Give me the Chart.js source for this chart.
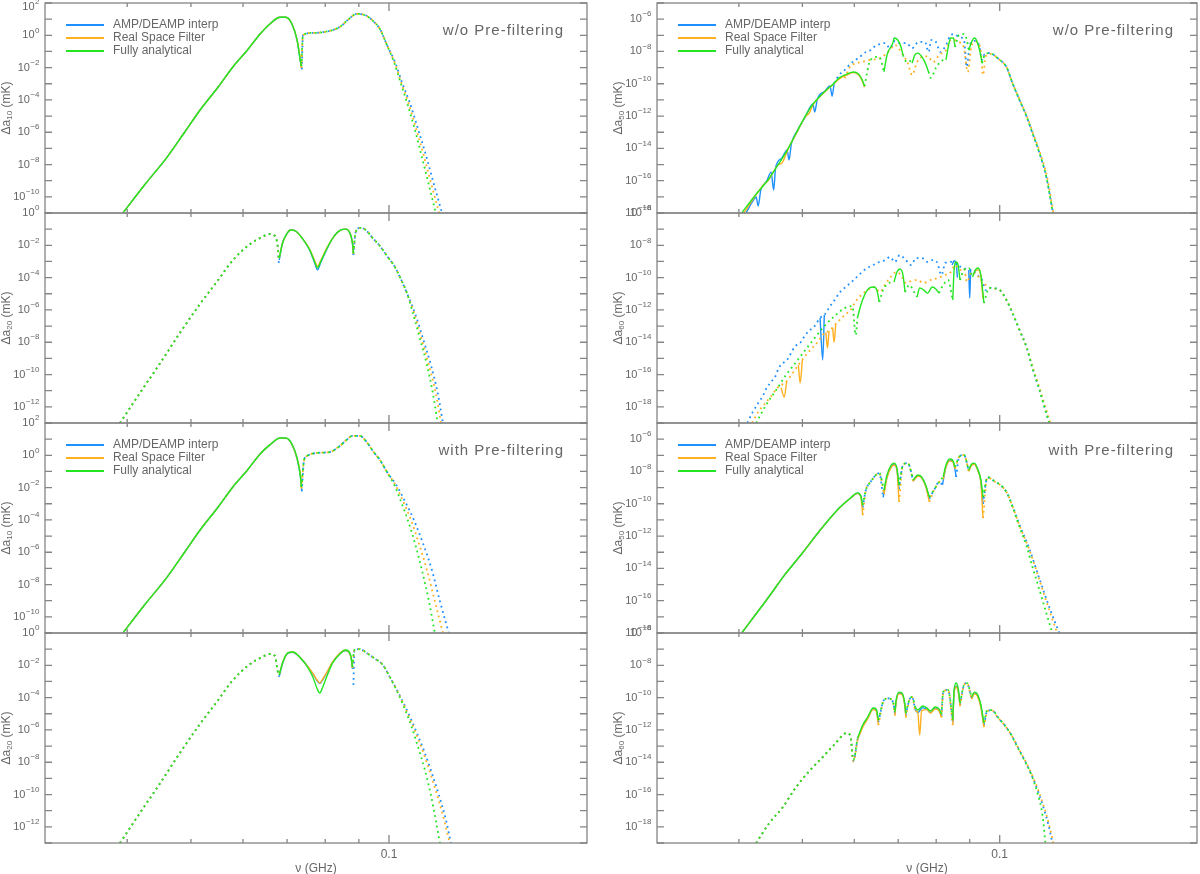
<!DOCTYPE html>
<html>
<head>
<meta charset="utf-8">
<script src="https://cdn.jsdelivr.net/npm/chart.js@4.4.1/dist/chart.umd.min.js"></script>
<style>
  html, body { margin: 0; padding: 0; background: #fff; overflow: hidden; }
  #wrap { position: relative; width: 1200px; height: 874px; }
  canvas { position: absolute; }
</style>
</head>
<body>
<div id="wrap"></div>
<script>
// ---------- data: [nu (GHz), delta a (mK)], null = break ----------

// top-left : a10, w/o pre-filtering
const L1_G_solid = [[0.0394,1e-11],[0.0425,5.4e-10],[0.0460,2.9e-8],[0.0489,1e-6],[0.0516,2.3e-5],[0.0550,6.3e-4],[0.0579,1.1e-2],[0.0609,0.12],[0.0637,1.2],[0.0659,5],[0.0683,13],[0.0697,13],[0.0712,5],[0.0725,0.5],[0.0733,0.03],[0.0736,0.0125]];
const L1_O_solid = [[0.0394,1e-11],[0.0425,5.4e-10],[0.0460,2.9e-8],[0.0489,1e-6],[0.0516,2.3e-5],[0.0550,6.3e-4],[0.0579,1.1e-2],[0.0609,0.12],[0.0637,1.2],[0.0659,5],[0.0683,13],[0.0697,13],[0.0712,5],[0.0725,0.5],[0.0734,0.025],[0.0736,0.01]];
const L1_B_solid = [[0.0394,1e-11],[0.0425,5.4e-10],[0.0460,2.9e-8],[0.0489,1e-6],[0.0516,2.3e-5],[0.0550,6.3e-4],[0.0579,1.1e-2],[0.0609,0.12],[0.0637,1.2],[0.0659,5],[0.0683,13],[0.0697,13],[0.0712,5],[0.0725,0.5],[0.0734,0.02],[0.0737,0.008]];
const L1_G_dot = [[0.0736,0.0125],[0.0740,1.0],[0.0765,1.4],[0.0813,1.9],[0.0842,3.3],[0.0866,9],[0.0893,21],[0.0919,18],[0.0942,9],[0.0969,2.4],[0.0993,0.25],[0.1019,0.019],[0.1042,1.1e-3],[0.1068,4.8e-5],[0.1095,1.4e-6],[0.1122,2.9e-8],[0.1150,5.4e-10],[0.1178,1e-11]];
const L1_O_dot = [[0.0736,0.01],[0.0740,1.0],[0.0765,1.4],[0.0813,1.9],[0.0842,3.3],[0.0866,9],[0.0893,21],[0.0919,18],[0.0942,9],[0.0969,2.4],[0.0993,0.25],[0.1021,0.019],[0.1044,1.2e-3],[0.1072,5.5e-5],[0.1100,1.6e-6],[0.1130,3.4e-8],[0.1160,6e-10],[0.1192,1e-11]];
const L1_B_dot = [[0.0737,0.008],[0.0740,1.0],[0.0765,1.4],[0.0813,1.9],[0.0842,3.3],[0.0866,9],[0.0893,21],[0.0919,18],[0.0942,9],[0.0969,2.4],[0.0993,0.25],[0.1023,0.019],[0.1046,1.3e-3],[0.1076,6.5e-5],[0.1106,1.8e-6],[0.1138,3.9e-8],[0.1170,6.3e-10],[0.1204,1e-11]];

// second-left : a20, w/o pre-filtering
const L2_G_solid = [[0.0681,1.6e-3],[0.0689,1.4e-2],[0.0699,5e-2],[0.0709,8.9e-2],[0.0721,7.7e-2],[0.0738,2.8e-2],[0.0758,5.1e-3],[0.0771,9.3e-4],[0.0779,4e-4],[0.0787,9.3e-4],[0.0807,7.9e-3],[0.0826,3.8e-2],[0.0845,8.9e-2],[0.0859,0.1],[0.0872,5.8e-2],[0.0880,1.4e-2],[0.0883,3.3e-3]];
const L2_O_solid = [[0.0681,1.6e-3],[0.0689,1.4e-2],[0.0699,5e-2],[0.0709,8.9e-2],[0.0721,7.7e-2],[0.0738,2.8e-2],[0.0758,5.5e-3],[0.0771,1.1e-3],[0.0779,5e-4],[0.0787,1.1e-3],[0.0807,8.5e-3],[0.0826,3.8e-2],[0.0845,8.9e-2],[0.0859,0.1],[0.0872,5.8e-2],[0.0880,1.4e-2],[0.0883,3e-3]];
const L2_B_solid = [[0.0681,1.2e-3],[0.0689,1.4e-2],[0.0699,5e-2],[0.0709,8.9e-2],[0.0721,7.7e-2],[0.0738,2.8e-2],[0.0758,4.8e-3],[0.0771,8e-4],[0.0779,3e-4],[0.0787,8e-4],[0.0807,7.5e-3],[0.0826,3.8e-2],[0.0845,8.9e-2],[0.0859,0.1],[0.0872,5.8e-2],[0.0880,1.4e-2],[0.0883,2.5e-3]];
const L2_G_dot = [[0.0390,1e-13],[0.0418,7e-12],[0.0449,5.1e-10],[0.0481,3.7e-8],[0.0516,2.3e-6],[0.0550,7.1e-5],[0.0579,1.2e-3],[0.0615,1.2e-2],[0.0641,3.2e-2],[0.0659,5e-2],[0.0671,3.8e-2],[0.0677,1.05e-2],[0.0680,1.6e-3], null,
  [0.0883,3.3e-3],[0.0890,6.6e-2],[0.0906,0.12],[0.0922,8.9e-2],[0.0942,3.2e-2],[0.0969,9.1e-3],[0.0993,2.2e-3],[0.1019,5.2e-4],[0.1039,1.1e-4],[0.1065,1.1e-5],[0.1087,6.5e-7],[0.1114,1.8e-8],[0.1142,3.9e-10],[0.1166,7.1e-12],[0.1186,1e-13]];
const L2_O_dot = [[0.0390,1e-13],[0.0418,7e-12],[0.0449,5.1e-10],[0.0481,3.7e-8],[0.0516,2.3e-6],[0.0550,7.1e-5],[0.0579,1.2e-3],[0.0615,1.2e-2],[0.0641,3.2e-2],[0.0659,5e-2],[0.0671,3.8e-2],[0.0677,1.05e-2],[0.0680,1.2e-3], null,
  [0.0883,3e-3],[0.0890,6.6e-2],[0.0906,0.12],[0.0922,8.9e-2],[0.0942,3.2e-2],[0.0969,9.1e-3],[0.0993,2.2e-3],[0.1019,5.2e-4],[0.1039,1.1e-4],[0.1065,1.1e-5],[0.1092,6.5e-7],[0.1120,1.8e-8],[0.1150,3.9e-10],[0.1178,7.1e-12],[0.1200,1e-13]];
const L2_B_dot = [[0.0390,1e-13],[0.0418,7e-12],[0.0449,5.1e-10],[0.0481,3.7e-8],[0.0516,2.3e-6],[0.0550,7.1e-5],[0.0579,1.2e-3],[0.0615,1.2e-2],[0.0641,3.2e-2],[0.0659,5e-2],[0.0671,3.8e-2],[0.0677,1.05e-2],[0.0680,8e-4], null,
  [0.0883,2.5e-3],[0.0890,6.6e-2],[0.0906,0.12],[0.0922,8.9e-2],[0.0942,3.2e-2],[0.0969,9.1e-3],[0.0993,2.2e-3],[0.1019,5.2e-4],[0.1039,1.1e-4],[0.1065,1.1e-5],[0.1095,6.5e-7],[0.1126,1.8e-8],[0.1158,3.9e-10],[0.1186,7.1e-12],[0.1208,1e-13]];

// third-left : a10, with pre-filtering
const L3_G_solid = [[0.0394,1e-11],[0.0425,5.4e-10],[0.0460,2.9e-8],[0.0489,1e-6],[0.0516,2.3e-5],[0.0550,6.3e-4],[0.0579,1.1e-2],[0.0609,0.12],[0.0637,1.2],[0.0659,4.4],[0.0683,11.7],[0.0697,11.7],[0.0712,5],[0.0725,0.68],[0.0733,0.06],[0.0736,0.011]];
const L3_O_solid = [[0.0394,1e-11],[0.0425,5.4e-10],[0.0460,2.9e-8],[0.0489,1e-6],[0.0516,2.3e-5],[0.0550,6.3e-4],[0.0579,1.1e-2],[0.0609,0.12],[0.0637,1.2],[0.0659,4.4],[0.0683,11.5],[0.0697,11.5],[0.0712,4.8],[0.0725,0.6],[0.0734,0.05],[0.0736,0.009]];
const L3_B_solid = [[0.0394,1e-11],[0.0425,5.4e-10],[0.0460,2.9e-8],[0.0489,1e-6],[0.0516,2.3e-5],[0.0550,6.3e-4],[0.0579,1.1e-2],[0.0609,0.12],[0.0637,1.2],[0.0659,4.4],[0.0683,11.5],[0.0697,11.5],[0.0712,4.8],[0.0725,0.6],[0.0734,0.04],[0.0737,0.006]];
const L3_G_dot = [[0.0736,0.011],[0.0743,0.51],[0.0750,0.9],[0.0776,1.4],[0.0813,1.6],[0.0842,3.8],[0.0862,9],[0.0880,16],[0.0903,16],[0.0925,6.6],[0.0945,1.9],[0.0969,0.51],[0.0993,0.093],[0.1019,0.0145],[0.1042,1.5e-3],[0.1068,1e-4],[0.1095,3.7e-6],[0.1122,8e-8],[0.1150,9.5e-10],[0.1174,1e-11]];
const L3_O_dot = [[0.0736,0.009],[0.0743,0.51],[0.0750,0.9],[0.0776,1.4],[0.0813,1.6],[0.0842,3.8],[0.0862,9],[0.0880,16],[0.0903,16],[0.0925,6.6],[0.0945,1.9],[0.0969,0.51],[0.0993,0.093],[0.1023,0.0145],[0.1050,1.5e-3],[0.1080,1e-4],[0.1110,3.7e-6],[0.1142,8e-8],[0.1174,9.5e-10],[0.1208,1e-11]];
const L3_B_dot = [[0.0737,0.006],[0.0743,0.51],[0.0750,0.9],[0.0776,1.4],[0.0813,1.6],[0.0842,3.8],[0.0862,9],[0.0880,16],[0.0903,16],[0.0925,6.6],[0.0945,1.9],[0.0969,0.51],[0.0993,0.093],[0.1026,0.0145],[0.1057,1.5e-3],[0.1091,1e-4],[0.1126,3.7e-6],[0.1162,8e-8],[0.1195,9.5e-10],[0.1233,1e-11]];

// bottom-left : a20, with pre-filtering
const L4_G_solid = [[0.0681,2.5e-3],[0.0689,1.4e-2],[0.0702,5.8e-2],[0.0714,6.6e-2],[0.0732,3.2e-2],[0.0750,9.1e-3],[0.0766,1.9e-3],[0.0779,3e-4],[0.0785,1.9e-4],[0.0790,3e-4],[0.0804,1.9e-3],[0.0821,1.4e-2],[0.0842,5e-2],[0.0859,8.9e-2],[0.0872,5.8e-2],[0.0877,2.5e-2],[0.0880,7.9e-3]];
const L4_O_solid = [[0.0681,2.5e-3],[0.0689,1.4e-2],[0.0702,5.8e-2],[0.0714,6.6e-2],[0.0732,3.2e-2],[0.0750,1.0e-2],[0.0766,3.2e-3],[0.0779,1.1e-3],[0.0785,8e-4],[0.0790,1.1e-3],[0.0804,3.5e-3],[0.0821,1.6e-2],[0.0842,5.5e-2],[0.0859,8.5e-2],[0.0872,5.5e-2],[0.0877,2.2e-2],[0.0880,7e-3]];
const L4_B_solid = [[0.0681,2e-3],[0.0689,1.3e-2],[0.0702,5.6e-2],[0.0714,6.4e-2],[0.0732,3.1e-2],[0.0750,1.0e-2],[0.0766,3e-3],[0.0779,1.0e-3],[0.0785,7.5e-4],[0.0790,1.0e-3],[0.0804,3.3e-3],[0.0821,1.5e-2],[0.0842,5.3e-2],[0.0859,8.3e-2],[0.0872,5.3e-2],[0.0877,2e-2],[0.0880,6e-3]];
const L4_G_dot = [[0.0390,1e-13],[0.0418,7e-12],[0.0449,5.1e-10],[0.0481,3.7e-8],[0.0516,2.3e-6],[0.0550,7.1e-5],[0.0579,1.2e-3],[0.0615,1.2e-2],[0.0641,3.2e-2],[0.0659,5e-2],[0.0671,3.8e-2],[0.0677,5e-3],[0.0680,2.5e-3], null,
  [0.0880,7.9e-3],[0.0886,8.9e-2],[0.0903,0.1],[0.0925,5.8e-2],[0.0949,2.8e-2],[0.0979,1.05e-2],[0.1003,1.9e-3],[0.1028,2.6e-4],[0.1054,2.6e-5],[0.1080,2e-6],[0.1106,1e-7],[0.1134,3.3e-9],[0.1158,9.3e-11],[0.1178,2.6e-12],[0.1195,1e-13]];
const L4_O_dot = [[0.0390,1e-13],[0.0418,7e-12],[0.0449,5.1e-10],[0.0481,3.7e-8],[0.0516,2.3e-6],[0.0550,7.1e-5],[0.0579,1.2e-3],[0.0615,1.2e-2],[0.0641,3.2e-2],[0.0659,5e-2],[0.0671,3.8e-2],[0.0677,5e-3],[0.0680,2.5e-3], null,
  [0.0880,7e-3],[0.0886,8.9e-2],[0.0903,0.1],[0.0925,5.8e-2],[0.0949,2.8e-2],[0.0979,1.05e-2],[0.1003,1.9e-3],[0.1028,3e-4],[0.1054,3.5e-5],[0.1080,3.5e-6],[0.1106,3.2e-7],[0.1134,2.1e-8],[0.1162,1.05e-9],[0.1191,4e-11],[0.1216,1.7e-12],[0.1237,1e-13]];
const L4_B_dot = [[0.0390,1e-13],[0.0418,7e-12],[0.0449,5.1e-10],[0.0481,3.7e-8],[0.0516,2.3e-6],[0.0550,7.1e-5],[0.0579,1.2e-3],[0.0615,1.2e-2],[0.0641,3.2e-2],[0.0659,5e-2],[0.0671,3.8e-2],[0.0677,5e-3],[0.0680,2e-3], null,
  [0.0883,6e-4],[0.0886,8.9e-2],[0.0903,0.1],[0.0925,5.8e-2],[0.0949,2.8e-2],[0.0979,1.05e-2],[0.1003,1.9e-3],[0.1028,3e-4],[0.1054,4e-5],[0.1080,4.7e-6],[0.1106,4.8e-7],[0.1134,3.7e-8],[0.1162,2.1e-9],[0.1191,9.3e-11],[0.1221,2.6e-12],[0.1242,1e-13]];

// top-right : a50, w/o pre-filtering
const R1_G_solid = [[0.0404,1e-18],[0.0424,1.3e-17],[0.0443,1.1e-16],[0.0460,1.1e-15],[0.0476,1.05e-14],[0.0490,1e-13],[0.0505,1e-12],[0.0519,5.6e-12],[0.0532,1.7e-11],[0.0546,4.7e-11],[0.0557,9.5e-11],[0.0569,2.3e-10],[0.0585,4e-10],[0.0598,5.4e-10],[0.0609,4e-10],[0.0617,1.7e-10],[0.0622,7.2e-11], null,
  [0.0666,5.4e-10],[0.0673,6e-9],[0.0688,3.9e-8],[0.0690,6.8e-8],[0.0699,5.1e-8],[0.0707,1.9e-8],[0.0712,6e-9], null,
  [0.0735,1.9e-9],[0.0742,6e-9],[0.0750,7.9e-9],[0.0761,4.6e-9],[0.0771,1.7e-9],[0.0779,5.4e-10], null,
  [0.0828,3e-9],[0.0834,1.6e-8],[0.0842,6.8e-8],[0.0850,6.8e-8],[0.0855,1.9e-8], null,
  [0.0897,1.2e-8],[0.0906,3.9e-8],[0.0915,6.8e-8],[0.0924,3.9e-8],[0.0933,9.3e-9],[0.0940,1.9e-9]];
const R1_G_dot = [[0.0622,7.2e-11],[0.0635,3e-9],[0.0655,4.6e-9],[0.0666,5.4e-10], null,
  [0.0712,6e-9],[0.0721,2.2e-9],[0.0733,2.6e-9],[0.0735,1.9e-9], null,
  [0.0779,5.4e-10],[0.0785,2.3e-10],[0.0799,9.5e-10],[0.0815,2.6e-9],[0.0828,3e-9], null,
  [0.0855,1.9e-8],[0.0867,1.05e-7],[0.0882,1.2e-7],[0.0891,5.1e-8],[0.0897,1.2e-8], null,
  [0.0940,1.9e-9],[0.0949,6e-9],[0.0964,7.9e-9],[0.1000,3e-9],[0.1024,1.1e-9],[0.1046,1.1e-10],[0.1072,1e-11],[0.1100,8.7e-13],[0.1122,8.9e-14],[0.1150,5.1e-15],[0.1178,1.7e-16],[0.1203,1.5e-18],[0.1205,1e-18]];
const R1_O_solid = [[0.0407,1e-18],[0.0424,1.2e-17],[0.0437,6e-17],[0.0443,1e-16],[0.0460,1e-15],[0.0465,1.2e-15],[0.0476,1e-14],[0.0490,9e-14],[0.0505,9e-13],[0.0512,1.5e-12],[0.0519,5e-12],[0.0532,1.6e-11],[0.0546,4.5e-11],[0.0557,9e-11],[0.0569,2e-10],[0.0585,3.6e-10],[0.0598,5e-10],[0.0609,3.6e-10],[0.0617,1.5e-10],[0.0622,6e-11]];
const R1_O_dot = [[0.0580,2.2e-10],[0.0592,1.2e-9],[0.0603,1.8e-9],[0.0614,2.2e-9],[0.0635,3e-9],[0.0657,3.9e-9],[0.0676,9.3e-9],[0.0692,2.5e-8],[0.0712,6e-9],[0.0724,1.9e-9],[0.0735,3.5e-10],[0.0748,2.2e-9],[0.0761,4.6e-9],[0.0776,5e-9],[0.0792,2.2e-9],[0.0808,6e-9],[0.0828,1.2e-8],[0.0842,5.1e-8],[0.0852,5.1e-8],[0.0867,3.9e-8],[0.0882,1.6e-8],[0.0894,5.4e-10],[0.0906,2.5e-8],[0.0921,3.9e-8],[0.0936,9.3e-9],[0.0943,3.5e-10],[0.0952,5e-9],[0.0968,7e-9],[0.1000,3e-9],[0.1024,1.1e-9],[0.1046,1.1e-10],[0.1072,1.1e-11],[0.1100,1e-12],[0.1124,9e-14],[0.1153,5e-15],[0.1181,1.7e-16],[0.1208,1e-18]];
const R1_B_solid = [[0.0410,1e-18],[0.0421,6.3e-18],[0.0425,9.8e-18],[0.0428,2.7e-18],[0.0432,2.6e-17],[0.0441,9.5e-17],[0.0448,3.4e-16],[0.0452,2.6e-17],[0.0455,6.1e-16],[0.0465,2.5e-15],[0.0474,8e-15],[0.0477,1.9e-15],[0.0481,1.9e-14],[0.0492,1.4e-13],[0.0505,8.7e-13],[0.0519,5.6e-12],[0.0522,1.8e-12],[0.0527,1.1e-11],[0.0541,3.5e-11],[0.0551,7.2e-11],[0.0555,1.7e-11],[0.0559,1.1e-10]];
const R1_B_dot = [[0.0559,1.1e-10],[0.0569,3.5e-10],[0.0580,7.1e-10],[0.0592,1.7e-9],[0.0603,3e-9],[0.0614,5.2e-9],[0.0625,9.3e-9],[0.0635,1.2e-8],[0.0646,2.2e-8],[0.0657,2.9e-8],[0.0669,3.3e-8],[0.0680,1.6e-8],[0.0692,4.5e-8],[0.0704,3.3e-8],[0.0721,3.3e-8],[0.0735,1.6e-8],[0.0752,3.9e-8],[0.0769,3.9e-8],[0.0779,9.3e-9],[0.0786,5.1e-8],[0.0799,3.9e-8],[0.0812,9.3e-9],[0.0831,3.3e-8],[0.0840,9.1e-8],[0.0852,1.2e-7],[0.0867,7.9e-8],[0.0882,5.1e-8],[0.0891,1.1e-9],[0.0900,2.5e-8],[0.0915,4.5e-8],[0.0930,2.5e-8],[0.0940,3e-9],[0.0946,6e-9],[0.0964,7.9e-9],[0.1000,3e-9],[0.1024,1.1e-9],[0.1046,1.1e-10],[0.1072,1e-11],[0.1100,8.7e-13],[0.1122,8.9e-14],[0.1150,5.1e-15],[0.1178,1.7e-16],[0.1206,1e-18]];

// second-right : a60, w/o pre-filtering
const R2_G_solid = [[0.0607,3.6e-13],[0.0614,2e-12],[0.0622,8.3e-12],[0.0633,2.3e-11],[0.0643,2.6e-11],[0.0650,1.5e-11],[0.0655,3.1e-12], null,
  [0.0690,5.4e-11],[0.0697,2.2e-10],[0.0704,3.4e-10],[0.0712,1.45e-10],[0.0717,1.3e-11], null,
  [0.0748,6.3e-12],[0.0755,2.3e-11],[0.0766,1.7e-11],[0.0776,1.1e-11],[0.0789,2.6e-11],[0.0799,2e-11],[0.0808,1.1e-11], null,
  [0.0848,4.1e-12],[0.0852,3e-10],[0.0858,9.3e-10],[0.0864,6e-10],[0.0870,7.1e-11], null,
  [0.0909,1.1e-10],[0.0918,3e-10],[0.0927,3.9e-10],[0.0936,1.45e-10],[0.0946,2.7e-12]];
const R2_G_dot = [[0.0425,1e-19],[0.0440,1.3e-18],[0.0456,1.1e-17],[0.0472,9.3e-17],[0.0489,5.9e-16],[0.0505,3.3e-15],[0.0522,1.8e-14],[0.0540,1e-13],[0.0560,4.2e-13],[0.0580,1.3e-12],[0.0596,1.7e-12],[0.0603,2.8e-14],[0.0607,3.6e-13], null,
  [0.0655,3.1e-12],[0.0664,1.7e-11],[0.0678,4.7e-11],[0.0690,5.4e-11], null,
  [0.0717,1.3e-11],[0.0728,3.5e-11],[0.0740,1.3e-11],[0.0748,6.3e-12], null,
  [0.0808,1.1e-11],[0.0820,3.5e-11],[0.0834,7.1e-11],[0.0848,4.1e-12], null,
  [0.0870,7.1e-11],[0.0882,3e-10],[0.0897,3.9e-10],[0.0909,1.1e-10], null,
  [0.0946,2.7e-12],[0.0964,2.3e-11],[0.1000,1.7e-11],[0.1024,4.1e-12],[0.1046,6.4e-13],[0.1072,5.8e-14],[0.1100,4.4e-15],[0.1122,2.5e-16],[0.1150,1.1e-17],[0.1174,6.3e-19],[0.1190,1e-19]];
const R2_O_solid = [[0.0464,1.5e-17],[0.0469,4e-18],[0.0473,3.5e-17], null,
  [0.0493,3.9e-16],[0.0496,3e-17],[0.0500,8e-16], null,
  [0.0543,4e-14],[0.0546,4.4e-15],[0.0549,5e-14], null,
  [0.0556,8e-14],[0.0559,1e-14],[0.0562,1.2e-13], null,
  [0.0915,2.5e-10],[0.0927,3e-10],[0.0936,1.2e-10],[0.0943,5e-12]];
const R2_O_dot = [[0.0419,1e-19],[0.0428,4.8e-19],[0.0438,1.5e-18],[0.0448,4.7e-18],[0.0458,1.5e-17],[0.0472,3.5e-17],[0.0483,1.2e-16],[0.0493,3.9e-16],[0.0502,1.05e-15],[0.0514,3.3e-15],[0.0526,8.9e-15],[0.0537,2.8e-14],[0.0551,5.8e-14],[0.0566,1.8e-13],[0.0580,4.8e-13],[0.0592,1e-12],[0.0605,4.1e-12],[0.0617,9.5e-12],[0.0629,1.7e-11],[0.0643,2.6e-11],[0.0657,1.3e-11],[0.0669,4e-11],[0.0680,9.5e-11],[0.0695,2.2e-10],[0.0707,1.45e-10],[0.0719,4.7e-11],[0.0733,6.2e-11],[0.0748,7.1e-11],[0.0766,4.7e-11],[0.0784,7.1e-11],[0.0805,9.5e-11],[0.0826,1.45e-10],[0.0842,2.2e-10],[0.0855,6e-10],[0.0870,3e-10],[0.0882,3.9e-10],[0.0891,5.4e-11],[0.0906,2.2e-10],[0.0924,1.45e-10],[0.0940,5.4e-11],[0.0952,3.5e-11],[0.0968,2.3e-11],[0.1000,1.7e-11],[0.1024,4.1e-12],[0.1046,6.4e-13],[0.1072,5.8e-14],[0.1100,4.4e-15],[0.1124,2.5e-16],[0.1153,1.1e-17],[0.1178,6.3e-19],[0.1195,1e-19]];
const R2_B_solid = [[0.0532,3.2e-13],[0.0537,8e-16],[0.0540,4.8e-13], null,
  [0.0846,6e-10],[0.0852,1.1e-9],[0.0858,8e-10],[0.0862,1e-10], null,
  [0.0897,3e-10],[0.0900,5.5e-12],[0.0903,3e-10]];
const R2_B_dot = [[0.0412,1e-19],[0.0420,4.8e-19],[0.0428,1.7e-18],[0.0435,4.7e-18],[0.0441,1.5e-17],[0.0448,3.5e-17],[0.0455,8.1e-17],[0.0460,2.5e-16],[0.0469,5.9e-16],[0.0476,1.05e-15],[0.0483,3.3e-15],[0.0490,6.8e-15],[0.0497,1e-14],[0.0505,2.8e-14],[0.0514,5.8e-14],[0.0522,1e-13],[0.0532,3.2e-13],[0.0540,4.8e-13],[0.0551,1.7e-12],[0.0560,4.1e-12],[0.0569,1.1e-11],[0.0580,2.3e-11],[0.0592,4.7e-11],[0.0603,9.5e-11],[0.0614,1.9e-10],[0.0627,3.9e-10],[0.0641,6e-10],[0.0655,9.3e-10],[0.0669,1.2e-9],[0.0680,1.9e-9],[0.0692,9.3e-10],[0.0704,2.5e-9],[0.0719,1.2e-9],[0.0733,6e-10],[0.0745,1.6e-9],[0.0761,1.6e-9],[0.0776,9.3e-10],[0.0789,1.2e-9],[0.0802,9.3e-10],[0.0815,1.45e-10],[0.0826,8e-10],[0.0839,9.3e-10],[0.0852,9.3e-10],[0.0867,5.2e-10],[0.0882,3.9e-10],[0.0897,3e-10],[0.0909,3e-10],[0.0924,1.45e-10],[0.0940,7.1e-11],[0.0952,1.7e-11],[0.0964,2.3e-11],[0.1000,1.7e-11],[0.1024,4.1e-12],[0.1046,6.4e-13],[0.1072,5.8e-14],[0.1100,4.4e-15],[0.1122,2.5e-16],[0.1150,1.1e-17],[0.1174,6.3e-19],[0.1190,1e-19]];

// third-right : a50, with pre-filtering
const R3_G_solid = [[0.0404,1e-18],[0.0419,7.3e-18],[0.0435,5.4e-17],[0.0451,4e-16],[0.0467,2.9e-15],[0.0500,8.9e-14],[0.0532,2.3e-12],[0.0569,5.5e-11],[0.0592,2.3e-10],[0.0607,4.7e-10],[0.0614,3e-10],[0.0618,8.3e-11], null,
  [0.0666,7.1e-10],[0.0673,6e-9],[0.0683,2.5e-8],[0.0690,3.3e-8],[0.0697,1.6e-8],[0.0702,1.45e-9], null,
  [0.0738,3e-9],[0.0750,6e-9],[0.0760,4.6e-9],[0.0771,1.45e-9],[0.0781,2.6e-10], null,
  [0.0820,4.6e-9],[0.0828,2.5e-8],[0.0839,5.9e-8],[0.0848,5e-8],[0.0855,1.9e-8], null,
  [0.0897,1.2e-8],[0.0906,2.9e-8],[0.0915,3.3e-8],[0.0927,1.2e-8],[0.0936,3e-9],[0.0943,2.6e-10]];
const R3_G_dot = [[0.0618,8.3e-11],[0.0625,7.1e-10],[0.0635,2.2e-9],[0.0655,7.9e-9],[0.0666,7.1e-10], null,
  [0.0702,1.45e-9],[0.0712,2.5e-8],[0.0724,3.3e-8],[0.0738,3e-9], null,
  [0.0781,2.6e-10],[0.0794,7.1e-10],[0.0808,2.2e-9],[0.0820,4.6e-9], null,
  [0.0855,1.9e-8],[0.0867,7.9e-8],[0.0882,1.05e-7],[0.0897,1.2e-8], null,
  [0.0943,2.6e-10],[0.0958,4.6e-9],[0.0977,3e-9],[0.1024,5.4e-10],[0.1046,6.3e-11],[0.1072,3.6e-12],[0.1100,2.1e-13],[0.1122,1.2e-14],[0.1150,4.6e-16],[0.1178,1.7e-17],[0.1203,1e-18]];
const R3_O_solid = [[0.0404,1e-18],[0.0419,7.3e-18],[0.0435,5.4e-17],[0.0451,4e-16],[0.0467,2.9e-15],[0.0500,8.9e-14],[0.0532,2.3e-12],[0.0569,5.3e-11],[0.0592,2.2e-10],[0.0607,4.4e-10],[0.0614,2.6e-10],[0.0618,2e-11], null,
  [0.0666,4e-10],[0.0673,4e-9],[0.0683,1.8e-8],[0.0690,2.5e-8],[0.0697,1.2e-8],[0.0702,1.3e-10], null,
  [0.0738,2.5e-9],[0.0750,5e-9],[0.0760,4e-9],[0.0771,1.2e-9],[0.0781,1.3e-10], null,
  [0.0820,3.5e-9],[0.0828,1.8e-8],[0.0839,4.5e-8],[0.0848,4e-8],[0.0855,1.5e-8], null,
  [0.0897,1e-8],[0.0906,2.4e-8],[0.0915,2.8e-8],[0.0927,1e-8],[0.0936,2e-9],[0.0943,1.3e-11]];
const R3_O_dot = [[0.0618,2e-11],[0.0625,7.1e-10],[0.0635,2.2e-9],[0.0655,7.9e-9],[0.0666,4e-10], null,
  [0.0702,1.3e-10],[0.0712,2.5e-8],[0.0724,3.3e-8],[0.0738,2.5e-9], null,
  [0.0781,1.3e-10],[0.0794,7.1e-10],[0.0808,2.2e-9],[0.0820,3.5e-9], null,
  [0.0855,1.5e-8],[0.0867,7.9e-8],[0.0882,1.05e-7],[0.0897,1e-8], null,
  [0.0943,1.3e-11],[0.0958,4.2e-9],[0.0977,2.8e-9],[0.1024,5.4e-10],[0.1046,7e-11],[0.1072,4.5e-12],[0.1110,1.4e-13],[0.1150,1.9e-15],[0.1190,2.6e-17],[0.1224,1e-18]];
const R3_B_solid = [[0.0404,1e-18],[0.0419,7.3e-18],[0.0435,5.4e-17],[0.0451,4e-16],[0.0467,2.9e-15],[0.0500,8.9e-14],[0.0532,2.3e-12],[0.0569,5.4e-11],[0.0592,2.2e-10],[0.0607,4.5e-10],[0.0614,2.8e-10],[0.0618,6e-11], null,
  [0.0664,2.5e-10],[0.0673,4.5e-9],[0.0683,2e-8],[0.0690,2.7e-8],[0.0697,1.3e-8],[0.0702,8e-10], null,
  [0.0738,2.6e-9],[0.0750,5.2e-9],[0.0760,4.2e-9],[0.0771,1.3e-9],[0.0781,2e-10], null,
  [0.0818,1.5e-9],[0.0828,2e-8],[0.0839,4.8e-8],[0.0848,4.2e-8],[0.0855,1.2e-8],[0.0858,4.6e-9], null,
  [0.0897,1.1e-8],[0.0906,2.6e-8],[0.0915,3e-8],[0.0927,1.1e-8],[0.0936,2.5e-9],[0.0943,1e-10]];
const R3_B_dot = [[0.0618,6e-11],[0.0625,7.1e-10],[0.0635,2.2e-9],[0.0655,7.9e-9],[0.0664,2.5e-10], null,
  [0.0702,8e-10],[0.0712,2.5e-8],[0.0724,3.3e-8],[0.0738,2.6e-9], null,
  [0.0781,2e-10],[0.0794,7.1e-10],[0.0808,2.2e-9],[0.0818,1.5e-9], null,
  [0.0858,4.6e-9],[0.0867,7.9e-8],[0.0882,1.05e-7],[0.0897,1.1e-8], null,
  [0.0943,1e-10],[0.0958,4.2e-9],[0.0977,2.8e-9],[0.1024,5.4e-10],[0.1046,7.5e-11],[0.1072,5e-12],[0.1110,1.6e-13],[0.1150,2.2e-15],[0.1195,2.6e-17],[0.1233,1e-18]];

// bottom-right : a60, with pre-filtering
const R4_G_solid = [[0.0607,3.2e-13],[0.0618,2e-12],[0.0629,6.3e-12],[0.0641,2.3e-11],[0.0648,2e-11],[0.0653,4.1e-12], null,
  [0.0692,1.3e-11],[0.0695,7.1e-11],[0.0702,2.2e-10],[0.0709,2e-10],[0.0717,3.5e-11],[0.0719,1.1e-11], null,
  [0.0743,2.6e-11],[0.0750,1.7e-11],[0.0763,3e-11],[0.0774,2.3e-11],[0.0784,1.5e-11],[0.0797,2.6e-11],[0.0808,2e-11],[0.0815,9.5e-12], null,
  [0.0848,4.1e-12],[0.0852,3e-10],[0.0858,8e-10],[0.0864,4e-10],[0.0870,4.7e-11], null,
  [0.0906,1.1e-10],[0.0915,2.2e-10],[0.0924,1.7e-10],[0.0936,3.5e-11],[0.0946,2.7e-12]];
const R4_G_dot = [[0.0425,1e-19],[0.0445,1.7e-18],[0.0467,1.7e-17],[0.0489,2.9e-16],[0.0514,3.3e-15],[0.0537,2.1e-14],[0.0559,1.2e-13],[0.0585,6.5e-13],[0.0592,4e-13],[0.0598,1.4e-14],[0.0607,3.2e-13], null,
  [0.0653,4.1e-12],[0.0666,7.1e-11],[0.0676,8.9e-11],[0.0688,4.7e-11],[0.0692,1.3e-11], null,
  [0.0719,1.1e-11],[0.0728,7.1e-11],[0.0735,1.1e-10],[0.0743,2.6e-11], null,
  [0.0815,9.5e-12],[0.0820,2.2e-10],[0.0834,3e-10],[0.0848,4.1e-12], null,
  [0.0870,4.7e-11],[0.0882,6e-10],[0.0891,8e-10],[0.0906,1.1e-10], null,
  [0.0946,2.7e-12],[0.0958,1.7e-11],[0.0974,1.7e-11],[0.0993,6.3e-12],[0.1017,2e-12],[0.1042,4.8e-13],[0.1064,8.7e-14],[0.1090,1.4e-14],[0.1118,1.6e-15],[0.1142,1.2e-16],[0.1162,5.4e-18],[0.1174,1e-19]];
const R4_O_solid = [[0.0607,2.5e-13],[0.0618,1.5e-12],[0.0629,5e-12],[0.0641,1.8e-11],[0.0648,1.5e-11],[0.0653,2e-12], null,
  [0.0692,8e-12],[0.0695,5e-11],[0.0702,1.7e-10],[0.0709,1.6e-10],[0.0717,2.5e-11],[0.0719,6e-12], null,
  [0.0743,1.5e-11],[0.0750,1.2e-11],[0.0755,4.8e-13],[0.0760,1.5e-11],[0.0774,1.8e-11],[0.0784,1.1e-11],[0.0797,2e-11],[0.0808,1.5e-11],[0.0815,6e-12], null,
  [0.0848,2e-12],[0.0852,2e-10],[0.0858,4.5e-10],[0.0864,2.5e-10],[0.0870,3e-11], null,
  [0.0906,8e-11],[0.0915,1.7e-10],[0.0924,1.3e-10],[0.0936,2.5e-11],[0.0946,1.5e-12]];
const R4_O_dot = [[0.0425,1e-19],[0.0445,1.7e-18],[0.0467,1.7e-17],[0.0489,2.9e-16],[0.0514,3.3e-15],[0.0537,2.1e-14],[0.0559,1.2e-13],[0.0585,6.5e-13],[0.0592,4e-13],[0.0598,1.1e-14],[0.0607,2.5e-13], null,
  [0.0653,2e-12],[0.0666,7.1e-11],[0.0676,8.9e-11],[0.0688,4.7e-11],[0.0692,8e-12], null,
  [0.0719,6e-12],[0.0728,7.1e-11],[0.0735,1.1e-10],[0.0743,1.5e-11], null,
  [0.0815,6e-12],[0.0820,2.2e-10],[0.0834,3e-10],[0.0848,2e-12], null,
  [0.0870,3e-11],[0.0882,6e-10],[0.0891,8e-10],[0.0906,8e-11], null,
  [0.0946,1.5e-12],[0.0958,1.5e-11],[0.0974,1.6e-11],[0.0993,6e-12],[0.1017,2e-12],[0.1042,4.8e-13],[0.1071,5.8e-14],[0.1102,6.8e-15],[0.1134,5.1e-16],[0.1166,2.2e-17],[0.1190,1.3e-18],[0.1207,1e-19]];
const R4_B_solid = [[0.0607,2.8e-13],[0.0618,1.7e-12],[0.0629,5.5e-12],[0.0641,2e-11],[0.0648,1.7e-11],[0.0653,3e-12], null,
  [0.0692,1e-11],[0.0695,6e-11],[0.0702,1.9e-10],[0.0709,1.8e-10],[0.0717,3e-11],[0.0719,8e-12], null,
  [0.0743,1.8e-11],[0.0750,1.2e-11],[0.0763,2.4e-11],[0.0774,1.9e-11],[0.0784,1.2e-11],[0.0797,2.2e-11],[0.0808,1.6e-11],[0.0815,7e-12], null,
  [0.0848,3e-12],[0.0852,2.3e-10],[0.0858,5e-10],[0.0864,3e-10],[0.0870,3.5e-11], null,
  [0.0906,9e-11],[0.0915,1.9e-10],[0.0924,1.5e-10],[0.0936,3e-11],[0.0946,2e-12]];
const R4_B_dot = [[0.0425,1e-19],[0.0445,1.7e-18],[0.0467,1.7e-17],[0.0489,2.9e-16],[0.0514,3.3e-15],[0.0537,2.1e-14],[0.0559,1.2e-13],[0.0585,6.5e-13],[0.0592,4e-13],[0.0598,1.2e-14],[0.0607,2.8e-13], null,
  [0.0653,3e-12],[0.0666,7.1e-11],[0.0676,8.9e-11],[0.0688,4.7e-11],[0.0692,1e-11], null,
  [0.0719,8e-12],[0.0728,7.1e-11],[0.0735,1.1e-10],[0.0743,1.8e-11], null,
  [0.0815,7e-12],[0.0820,2.2e-10],[0.0834,3e-10],[0.0848,3e-12], null,
  [0.0870,3.5e-11],[0.0882,6e-10],[0.0891,8e-10],[0.0906,9e-11], null,
  [0.0946,2e-12],[0.0958,1.6e-11],[0.0974,1.6e-11],[0.0993,6e-12],[0.1017,2e-12],[0.1042,4.8e-13],[0.1071,5.8e-14],[0.1100,7e-15],[0.1132,5.1e-16],[0.1163,2.2e-17],[0.1187,1.3e-18],[0.1203,1e-19]];

// axis / legend text
const X_TICKS = [0.04, 0.05, 0.06, 0.07, 0.08, 0.09, 0.1];
const LEGEND = ['AMP/DEAMP interp', 'Real Space Filter', 'Fully analytical'];
const NOTES = ['w/o Pre-filtering', 'with Pre-filtering'];

// ---------- styling ----------
const BLUE = '#1e90ff', ORANGE = '#ffb020', GREEN = '#22e622';
const AXIS = '#858585', TEXT = '#666666';
const FONT = '"Liberation Sans", Arial, sans-serif';

function pts(arr) {
  let lastX = arr[0][0];
  return arr.map(p => {
    if (!p) return {x: lastX, y: null};
    lastX = p[0];
    return {x: p[0], y: p[1]};
  });
}

function line(arr, color, dotted, order) {
  return {
    data: pts(arr),
    borderColor: color,
    borderWidth: dotted ? 1.8 : 1.4,
    borderDash: dotted ? [1.8, 3.6] : [],
    pointRadius: 0,
    fill: false,
    cubicInterpolationMode: 'monotone',
    order: order
  };
}

const frame = {
  id: 'frame',
  afterDraw(chart, args, o) {
    const {ctx, chartArea: a} = chart;
    const sx = chart.scales.x, sy = chart.scales.y;
    ctx.save();
    // box + inward ticks
    ctx.strokeStyle = AXIS;
    ctx.lineWidth = 1.3;
    ctx.strokeRect(a.left, a.top, a.width, a.height);
    ctx.beginPath();
    for (let e = o.eMin; e <= o.eMax; e++) {
      const py = sy.getPixelForValue(Math.pow(10, e));
      ctx.moveTo(a.left, py); ctx.lineTo(a.left + 7, py);
      ctx.moveTo(a.right, py); ctx.lineTo(a.right - 7, py);
    }
    X_TICKS.forEach(v => {
      const px = sx.getPixelForValue(v), len = v === 0.1 ? 8 : 4;
      ctx.moveTo(px, a.top); ctx.lineTo(px, a.top + len);
      ctx.moveTo(px, a.bottom); ctx.lineTo(px, a.bottom - len);
    });
    ctx.stroke();

    // y tick labels 10^n (even n)
    ctx.fillStyle = TEXT;
    ctx.textBaseline = 'middle';
    ctx.textAlign = 'left';
    for (let e = o.eMin; e <= o.eMax; e++) {
      if (e % 2 !== 0) continue;
      let py = sy.getPixelForValue(Math.pow(10, e));
      if (o.top && py < a.top + 3) py = a.top + 3.5;   // keep the very top label on the page
      const ex = e < 0 ? '\u2212' + (-e) : String(e);
      ctx.font = '11px ' + FONT;
      const w1 = ctx.measureText('10').width;
      ctx.font = '8px ' + FONT;
      const w2 = ctx.measureText(ex).width;
      const x0 = a.left - 6 - w1 - w2;
      ctx.font = '11px ' + FONT;
      ctx.fillText('10', x0, py);
      ctx.font = '8px ' + FONT;
      ctx.fillText(ex, x0 + w1 + 0.5, py - 5);
    }

    // y title  Δa_lm (mK)
    ctx.save();
    ctx.translate(a.left - 38, (a.top + a.bottom) / 2);
    ctx.rotate(-Math.PI / 2);
    ctx.font = '12px ' + FONT;
    const wA = ctx.measureText('\u0394a').width;
    const wC = ctx.measureText(' (mK)').width;
    ctx.font = '8px ' + FONT;
    const wB = ctx.measureText(o.sub).width;
    let tx = -(wA + wB + wC) / 2;
    ctx.font = '12px ' + FONT;
    ctx.fillText('\u0394a', tx, 0);
    ctx.font = '8px ' + FONT;
    ctx.fillText(o.sub, tx + wA, 3);
    ctx.font = '12px ' + FONT;
    ctx.fillText(' (mK)', tx + wA + wB, 0);
    ctx.restore();

    // x labels on the bottom row
    if (o.bottom) {
      ctx.textAlign = 'center';
      ctx.font = '12px ' + FONT;
      ctx.fillText('0.1', sx.getPixelForValue(0.1), a.bottom + 12);
      ctx.fillText('\u03bd (GHz)', (a.left + a.right) / 2, a.bottom + 26);
    }

    // legend + note
    if (o.legend) {
      const cols = [BLUE, ORANGE, GREEN];
      ctx.textAlign = 'left';
      ctx.font = '12px ' + FONT;
      cols.forEach((c, i) => {
        const ly = a.top + 22 + 13 * i;
        ctx.strokeStyle = c;
        ctx.lineWidth = 2;
        ctx.beginPath();
        ctx.moveTo(a.left + 21, ly); ctx.lineTo(a.left + 59, ly);
        ctx.stroke();
        ctx.fillStyle = TEXT;
        ctx.fillText(LEGEND[i], a.left + 68, ly);
      });
      ctx.textAlign = 'right';
      ctx.font = '15px ' + FONT;
      ctx.letterSpacing = '1px';
      ctx.fillText(o.note, a.right - 23, a.top + 28);
      ctx.letterSpacing = '0px';
    }
    ctx.restore();
  }
};

const panels = [
  {c: 0, r: 0, yMin: 1e-11, yMax: 1e2, sub: '10', note: NOTES[0], G: [L1_G_solid, L1_G_dot], O: [L1_O_solid, L1_O_dot], B: [L1_B_solid, L1_B_dot]},
  {c: 0, r: 1, yMin: 1e-13, yMax: 1e0, sub: '20', G: [L2_G_solid, L2_G_dot], O: [L2_O_solid, L2_O_dot], B: [L2_B_solid, L2_B_dot]},
  {c: 0, r: 2, yMin: 1e-11, yMax: 1e2, sub: '10', note: NOTES[1], G: [L3_G_solid, L3_G_dot], O: [L3_O_solid, L3_O_dot], B: [L3_B_solid, L3_B_dot]},
  {c: 0, r: 3, yMin: 1e-13, yMax: 1e0, sub: '20', G: [L4_G_solid, L4_G_dot], O: [L4_O_solid, L4_O_dot], B: [L4_B_solid, L4_B_dot]},
  {c: 1, r: 0, yMin: 1e-18, yMax: 1e-5, sub: '50', note: NOTES[0], G: [R1_G_solid, R1_G_dot], O: [R1_O_solid, R1_O_dot], B: [R1_B_solid, R1_B_dot]},
  {c: 1, r: 1, yMin: 1e-19, yMax: 1e-6, sub: '60', G: [R2_G_solid, R2_G_dot], O: [R2_O_solid, R2_O_dot], B: [R2_B_solid, R2_B_dot]},
  {c: 1, r: 2, yMin: 1e-18, yMax: 1e-5, sub: '50', note: NOTES[1], G: [R3_G_solid, R3_G_dot], O: [R3_O_solid, R3_O_dot], B: [R3_B_solid, R3_B_dot]},
  {c: 1, r: 3, yMin: 1e-19, yMax: 1e-6, sub: '60', G: [R4_G_solid, R4_G_dot], O: [R4_O_solid, R4_O_dot], B: [R4_B_solid, R4_B_dot]}
];

const wrap = document.getElementById('wrap');
panels.forEach(p => {
  const bottom = p.r === 3;
  const cv = document.createElement('canvas');
  cv.width = 600;
  cv.height = bottom ? 255 : 230;
  cv.style.left = (p.c * 600) + 'px';
  cv.style.top = (3 + 210 * p.r - 10) + 'px';
  wrap.appendChild(cv);

  new Chart(cv, {
    type: 'line',
    data: {
      datasets: [
        line(p.G[0], GREEN, false, 0), line(p.G[1], GREEN, true, 0),
        line(p.O[0], ORANGE, false, 1), line(p.O[1], ORANGE, true, 1),
        line(p.B[0], BLUE, false, 2), line(p.B[1], BLUE, true, 2)
      ]
    },
    options: {
      responsive: false,
      animation: false,
      events: [],
      layout: {padding: {left: p.c ? 57 : 45, right: p.c ? 3 : 13, top: 10, bottom: bottom ? 35 : 10}},
      scales: {
        x: {type: 'logarithmic', min: 0.03, max: 0.2, display: false},
        y: {type: 'logarithmic', min: p.yMin, max: p.yMax, display: false}
      },
      plugins: {
        legend: {display: false},
        tooltip: {enabled: false},
        frame: {
          eMin: Math.round(Math.log10(p.yMin)),
          eMax: Math.round(Math.log10(p.yMax)),
          sub: p.sub,
          top: p.r === 0,
          bottom: bottom,
          legend: !!p.note,
          note: p.note || ''
        }
      }
    },
    plugins: [frame]
  });
});
</script>
</body>
</html>
